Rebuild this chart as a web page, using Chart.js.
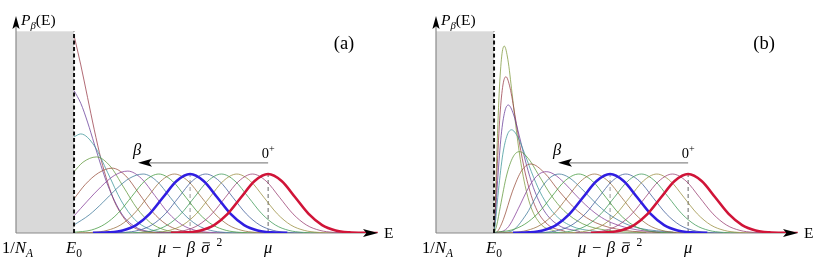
<!DOCTYPE html>
<html><head><meta charset="utf-8">
<script src="https://cdn.jsdelivr.net/npm/chart.js@4.4.1/dist/chart.umd.min.js"></script>
<style>
html,body{margin:0;padding:0;background:#fff;}
#wrap{position:relative;width:814px;height:267px;overflow:hidden;background:#fff;}
canvas{position:absolute;top:0;}
#ca{left:0;} #cb{left:420px;}
</style></head><body>
<div id="wrap"><canvas id="ca" width="410" height="267"></canvas><canvas id="cb" width="394" height="267"></canvas></div>
<script>
// ---------- axis landmarks (data units: E in sigma units, E0 = 0) ----------
const E0 = 0, MU = 7.19, MU_SHIFT = 4.30, XMIN = -2.15, XMAX = 11.26, YMAX = 3.68, WALL = 3.42, PEAK = 1;
const tickValues = [XMIN, E0, MU_SHIFT, MU];
const tickLabels = [
  [{t:'1/'},{t:'N',i:1},{t:'A',i:1,sub:1}],
  [{t:'E',i:1},{t:'0',sub:1}],
  [{t:'μ',i:1},{t:' − ',pad:1.5},{t:'β',i:1},{t:' ',pad:1},{t:'σ',i:1,over:1},{t:' ',pad:1.5},{t:'2',sup:1}],
  [{t:'μ',i:1}]
];
const betaArrow = {from: 7.19, to: 2.37, level: 1.19};

// ---------- curves shared by both panels (small beta) ----------
const curve0 = [[3.59,0.0015],[4.19,0.0111],[4.69,0.0439],[5.19,0.1353],[5.69,0.3247],[6.19,0.6065],[6.69,0.8825],[7.19,1],[7.69,0.8825],[8.19,0.6065],[8.69,0.3247],[9.19,0.1353],[9.69,0.0439],[10.19,0.0111],[10.79,0.0015],[11.25,0.0002]];
const curve1 = [[3.01,0.0015],[3.61,0.0111],[4.11,0.0439],[4.61,0.1353],[5.11,0.3247],[5.61,0.6065],[6.11,0.8825],[6.61,1],[7.11,0.8825],[7.61,0.6065],[8.11,0.3247],[8.61,0.1353],[9.11,0.0439],[9.61,0.0111],[10.21,0.0015]];
const curve2 = [[2.43,0.0015],[3.03,0.0111],[3.53,0.0439],[4.03,0.1353],[4.53,0.3247],[5.03,0.6065],[5.53,0.8825],[6.03,1],[6.53,0.8825],[7.03,0.6065],[7.53,0.3247],[8.03,0.1353],[8.53,0.0439],[9.03,0.0111],[9.63,0.0015]];
const curve3 = [[1.86,0.0015],[2.46,0.0111],[2.96,0.0439],[3.46,0.1353],[3.96,0.3247],[4.46,0.6065],[4.96,0.8825],[5.46,1],[5.96,0.8825],[6.46,0.6065],[6.96,0.3247],[7.46,0.1353],[7.96,0.0439],[8.46,0.0111],[9.06,0.0015]];
const curve4 = [[1.28,0.0015],[1.88,0.0111],[2.38,0.0439],[2.88,0.1353],[3.38,0.3247],[3.88,0.6065],[4.38,0.8825],[4.88,1],[5.38,0.8825],[5.88,0.6065],[6.38,0.3247],[6.88,0.1353],[7.38,0.0439],[7.88,0.0111],[8.48,0.0015]];
const curve5 = [[0.70,0.0015],[1.30,0.0111],[1.80,0.0439],[2.30,0.1353],[2.80,0.3247],[3.30,0.6065],[3.80,0.8825],[4.30,1],[4.80,0.8825],[5.30,0.6065],[5.80,0.3247],[6.30,0.1353],[6.80,0.0439],[7.30,0.0111],[7.90,0.0015]];
const curve6 = [[0.12,0.0015],[0.72,0.0111],[1.22,0.0439],[1.72,0.1353],[2.22,0.3247],[2.72,0.6065],[3.22,0.8825],[3.72,1],[4.22,0.8825],[4.72,0.6065],[5.22,0.3247],[5.72,0.1353],[6.22,0.0439],[6.72,0.0111],[7.32,0.0015]];
const curve7 = [[0,0.012],[0.64,0.05],[1.14,0.15],[1.64,0.34],[2.14,0.62],[2.64,0.89],[3.14,1],[3.64,0.8825],[4.14,0.6065],[4.64,0.3247],[5.14,0.1353],[5.64,0.0439],[6.14,0.0111],[6.74,0.0015]];

// ---------- panel (a): large beta, truncated at E0 ----------
const curveA8  = [[0,0.137],[0.56,0.306],[1.06,0.514],[1.56,0.744],[2.06,0.929],[2.56,1.0],[3.06,0.8825],[3.56,0.6065],[4.06,0.3247],[4.56,0.1353],[5.06,0.0439],[5.56,0.0111],[6.16,0.0015]];
const curveA9  = [[0,0.29],[0.49,0.54],[0.99,0.78],[1.49,0.975],[1.99,1.05],[2.49,0.927],[2.99,0.637],[3.49,0.341],[3.99,0.142],[4.49,0.046],[4.99,0.0117],[5.59,0.0016]];
const curveA10 = [[0,0.58],[0.41,0.82],[0.91,1.02],[1.41,1.10],[1.91,0.971],[2.41,0.667],[2.91,0.357],[3.41,0.149],[3.91,0.048],[4.41,0.012],[5.01,0.0017]];
const curveA11 = [[0,1.04],[0.33,1.2],[0.83,1.29],[1.33,1.138],[1.83,0.782],[2.33,0.419],[2.83,0.1745],[3.33,0.0566],[3.83,0.0143],[4.43,0.002]];
const curveA12 = [[0,1.63],[0.25,1.68],[0.75,1.48],[1.25,1.02],[1.75,0.545],[2.25,0.227],[2.75,0.074],[3.25,0.0186],[3.85,0.0025]];
const curveA13 = [[0,2.415],[0.25,2.199],[0.5,1.881],[0.75,1.511],[1.0,1.141],[1.25,0.809],[1.75,0.337],[2.25,0.109],[2.75,0.0277],[3.35,0.0037]];
const curveA14 = [[0,3.35],[0.25,2.85],[0.5,2.3],[0.75,1.75],[1.0,1.25],[1.25,0.85],[1.5,0.53],[2.0,0.17],[2.5,0.04],[3.0,0.007]];

// ---------- panel (b): large beta, vanishing at E0 ----------
const curveB8  = [[0,0],[0.60,0.024],[1.205,0.323],[1.506,0.573],[1.808,0.802],[2.109,0.951],[2.41,1.0],[2.772,0.942],[3.254,0.746],[3.736,0.52],[4.218,0.33],[4.82,0.167],[5.42,0.077],[6.63,0.013]];
const curveB9  = [[0,0],[0.4825,0.079],[0.965,0.475],[1.206,0.707],[1.4475,0.892],[1.689,1.005],[1.93,1.04],[2.2195,0.997],[2.6055,0.849],[2.9915,0.660],[3.3775,0.482],[3.86,0.300],[4.3425,0.176],[5.3075,0.052],[6.755,0.0067]];
const curveB10 = [[0,0],[0.137,0.031],[0.3425,0.226],[0.685,0.710],[1.0275,1.061],[1.37,1.17],[1.8495,1.028],[2.3975,0.717],[3.0825,0.378],[3.7675,0.174],[4.795,0.047],[6.165,0.007]];
const curveB11 = [[0,0],[0.094,0.119],[0.235,0.453],[0.47,0.984],[0.705,1.29],[0.94,1.38],[1.269,1.264],[1.645,0.989],[2.115,0.640],[2.585,0.380],[3.29,0.155],[4.23,0.042],[5.64,0.005]];
const curveB12 = [[0,0],[0.065,0.245],[0.1625,0.7175],[0.325,1.335],[0.4875,1.66],[0.65,1.75],[0.8775,1.63],[1.1375,1.34],[1.4625,0.947],[1.7875,0.623],[2.275,0.3045],[2.925,0.107],[3.9,0.0196]];
const curveB13 = [[0,0],[0.053,0.304],[0.1325,0.89],[0.265,1.656],[0.3975,2.06],[0.53,2.17],[0.7155,2.02],[0.9275,1.66],[1.1925,1.17],[1.4575,0.77],[1.855,0.378],[2.385,0.133],[3.18,0.024]];
const curveB14 = [[0,0],[0.044,0.347],[0.11,1.05],[0.22,2.0],[0.33,2.51],[0.44,2.65],[0.594,2.46],[0.77,2.01],[0.99,1.40],[1.21,0.91],[1.54,0.435],[1.98,0.147],[2.64,0.025]];
const curveB15 = [[0,0],[0.038,0.387],[0.095,1.22],[0.19,2.37],[0.285,3.0],[0.38,3.17],[0.513,2.94],[0.665,2.38],[0.855,1.64],[1.045,1.05],[1.33,0.49],[1.71,0.16],[2.28,0.026]];

const panelA = [curve0,curve1,curve2,curve3,curve4,curve5,curve6,curve7,curveA8,curveA9,curveA10,curveA11,curveA12,curveA13,curveA14];
const panelB = [curve0,curve1,curve2,curve3,curve4,curve5,curve6,curve7,curveB8,curveB9,curveB10,curveB11,curveB12,curveB13,curveB14,curveB15];

// ---------- styles ----------
const curveColors = ['rgb(208,20,56)','rgba(153,61,113,0.85)','rgba(153,140,61,0.85)','rgba(61,153,86,0.85)','rgba(61,90,153,0.85)','rgb(48,30,225)',
  'rgba(153,109,61,0.85)','rgba(66,153,61,0.85)','rgba(61,120,153,0.85)','rgba(133,61,153,0.85)','rgba(153,79,61,0.85)','rgba(97,153,61,0.85)',
  'rgba(61,150,153,0.85)','rgba(102,61,153,0.85)','rgba(153,61,73,0.85)','rgba(127,153,61,0.85)'];
const thick = [0,5];
const SERIF = '"Liberation Serif","DejaVu Serif",serif';

function fontFor(p,size){ const s=(p.sub||p.sup)?size*0.7:size; return (p.i?'italic ':'')+s.toFixed(1)+'px '+SERIF; }
function partWidth(ctx,p,size){ ctx.font=fontFor(p,size); return ctx.measureText(p.t).width + (p.pad? 2*p.pad : 0); }
function drawRich(ctx, parts, x, y, size, align){
  let w=0; for(const p of parts){ w+=partWidth(ctx,p,size); }
  let cx = align==='center'? x-w/2 : (align==='right'? x-w : x);
  ctx.textAlign='left'; ctx.textBaseline='alphabetic'; ctx.fillStyle='#000'; ctx.strokeStyle='#000';
  for(const p of parts){
    const pw=partWidth(ctx,p,size);
    ctx.font=fontFor(p,size);
    const dy = p.sub? size*0.25 : (p.sup? -size*0.42 : 0);
    ctx.fillText(p.t, cx+(p.pad||0), y+dy);
    if(p.over){ ctx.beginPath(); ctx.lineWidth=0.9; ctx.moveTo(cx+1.5,y-size*0.62); ctx.lineTo(cx+pw+0.5,y-size*0.62); ctx.stroke(); }
    cx+=pw;
  }
}
function arrowHead(ctx, tx, ty, dx, dy, len, half){
  const px=-dy, py=dx;
  const bx=tx-dx*len, by=ty-dy*len;
  const nx=tx-dx*len*0.78, ny=ty-dy*len*0.78;
  ctx.beginPath(); ctx.moveTo(tx,ty); ctx.lineTo(bx+px*half,by+py*half); ctx.lineTo(nx,ny); ctx.lineTo(bx-px*half,by-py*half); ctx.closePath();
  ctx.fillStyle='#000'; ctx.fill();
}

function makeDecor(tag){
  return {
    id:'decor'+tag,
    beforeDatasetsDraw(chart){
      const ctx=chart.ctx, X=chart.scales.x, Y=chart.scales.y;
      const x0=X.getPixelForValue(XMIN), xE=X.getPixelForValue(E0), xe=X.getPixelForValue(XMAX);
      const yb=Y.getPixelForValue(0), yw=Y.getPixelForValue(WALL), yt=Y.getPixelForValue(YMAX);
      ctx.save();
      ctx.fillStyle='#d9d9d9'; ctx.fillRect(x0, yw, xE-x0, yb-yw);
      ctx.strokeStyle='#8a8a8a'; ctx.lineWidth=1.2;
      ctx.beginPath(); ctx.moveTo(x0,yb); ctx.lineTo(xe-8,yb); ctx.stroke();
      ctx.beginPath(); ctx.moveTo(x0,yb); ctx.lineTo(x0,yt+8); ctx.stroke();
      const yp=Y.getPixelForValue(PEAK);
      ctx.setLineDash([4,3]);
      ctx.strokeStyle='#b0b0b0'; ctx.lineWidth=1.3;
      const xs=X.getPixelForValue(MU_SHIFT);
      ctx.beginPath(); ctx.moveTo(xs,yb); ctx.lineTo(xs,yp); ctx.stroke();
      ctx.strokeStyle='#555'; ctx.lineWidth=0.9;
      const xm=X.getPixelForValue(MU);
      ctx.beginPath(); ctx.moveTo(xm,yb); ctx.lineTo(xm,yp); ctx.stroke();
      ctx.restore();
    },
    afterDatasetsDraw(chart){
      const ctx=chart.ctx, X=chart.scales.x, Y=chart.scales.y;
      const x0=X.getPixelForValue(XMIN), xE=X.getPixelForValue(E0), xe=X.getPixelForValue(XMAX);
      const yb=Y.getPixelForValue(0), yw=Y.getPixelForValue(WALL), yt=Y.getPixelForValue(YMAX);
      ctx.save();
      ctx.setLineDash([4,2.5]); ctx.strokeStyle='#111'; ctx.lineWidth=2;
      ctx.beginPath(); ctx.moveTo(xE,yb); ctx.lineTo(xE,yw); ctx.stroke();
      ctx.setLineDash([]);
      arrowHead(ctx, xe, yb, 1, 0, 15, 4);
      arrowHead(ctx, x0, yt, 0, -1, 13, 3.6);
      const ya=Y.getPixelForValue(betaArrow.level), xa1=X.getPixelForValue(betaArrow.from), xa2=X.getPixelForValue(betaArrow.to);
      ctx.strokeStyle='#8a8a8a'; ctx.lineWidth=1.2;
      ctx.beginPath(); ctx.moveTo(xa1,ya); ctx.lineTo(xa2+10,ya); ctx.stroke();
      arrowHead(ctx, xa2, ya, -1, 0, 14, 4);
      drawRich(ctx,[{t:'β',i:1}], xa2-1, ya-8, 16.5, 'center');
      drawRich(ctx,[{t:'0'},{t:'+',sup:1}], xa1, ya-5, 14.5, 'center');
      for(let k=0;k<tickValues.length;k++){
        drawRich(ctx, tickLabels[k], X.getPixelForValue(tickValues[k]) + (k===0?1.5:0), yb+20, 16.5, 'center');
      }
      drawRich(ctx,[{t:'E'}], xe+6, yb+5, 15.5, 'left');
      drawRich(ctx,[{t:'P',i:1},{t:'β',i:1,sub:1},{t:'(E)'}], x0+5, yt+9, 15.5, 'left');
      drawRich(ctx,[{t:tag}], X.getPixelForValue(XMAX)-34, Y.getPixelForValue(YMAX)+33, 18.5, 'center');
      ctx.restore();
    }
  };
}

function makeDatasets(curves){
  return curves.map((pts,k)=>({
    data: pts.map(p=>({x:p[0],y:p[1]})),
    borderColor: curveColors[k],
    borderWidth: thick.includes(k)?2.6:0.9,
    pointRadius:0, fill:false, tension:0.4, cubicInterpolationMode:'monotone',
    order: thick.includes(k)?0:1
  }));
}
function makeChart(id, curves, tag, rightPad){
  return new Chart(document.getElementById(id), {
    type:'line',
    data:{datasets: makeDatasets(curves)},
    options:{
      responsive:false, animation:false, devicePixelRatio:1, events:[],
      layout:{padding:{left:16,right:rightPad,top:16,bottom:34}},
      plugins:{legend:{display:false}, tooltip:{enabled:false}},
      scales:{
        x:{type:'linear', min:XMIN, max:XMAX, display:false},
        y:{type:'linear', min:0, max:YMAX, display:false}
      }
    },
    plugins:[makeDecor(tag)]
  });
}
makeChart('ca', panelA, '(a)', 32);
makeChart('cb', panelB, '(b)', 16);
</script></body></html>
